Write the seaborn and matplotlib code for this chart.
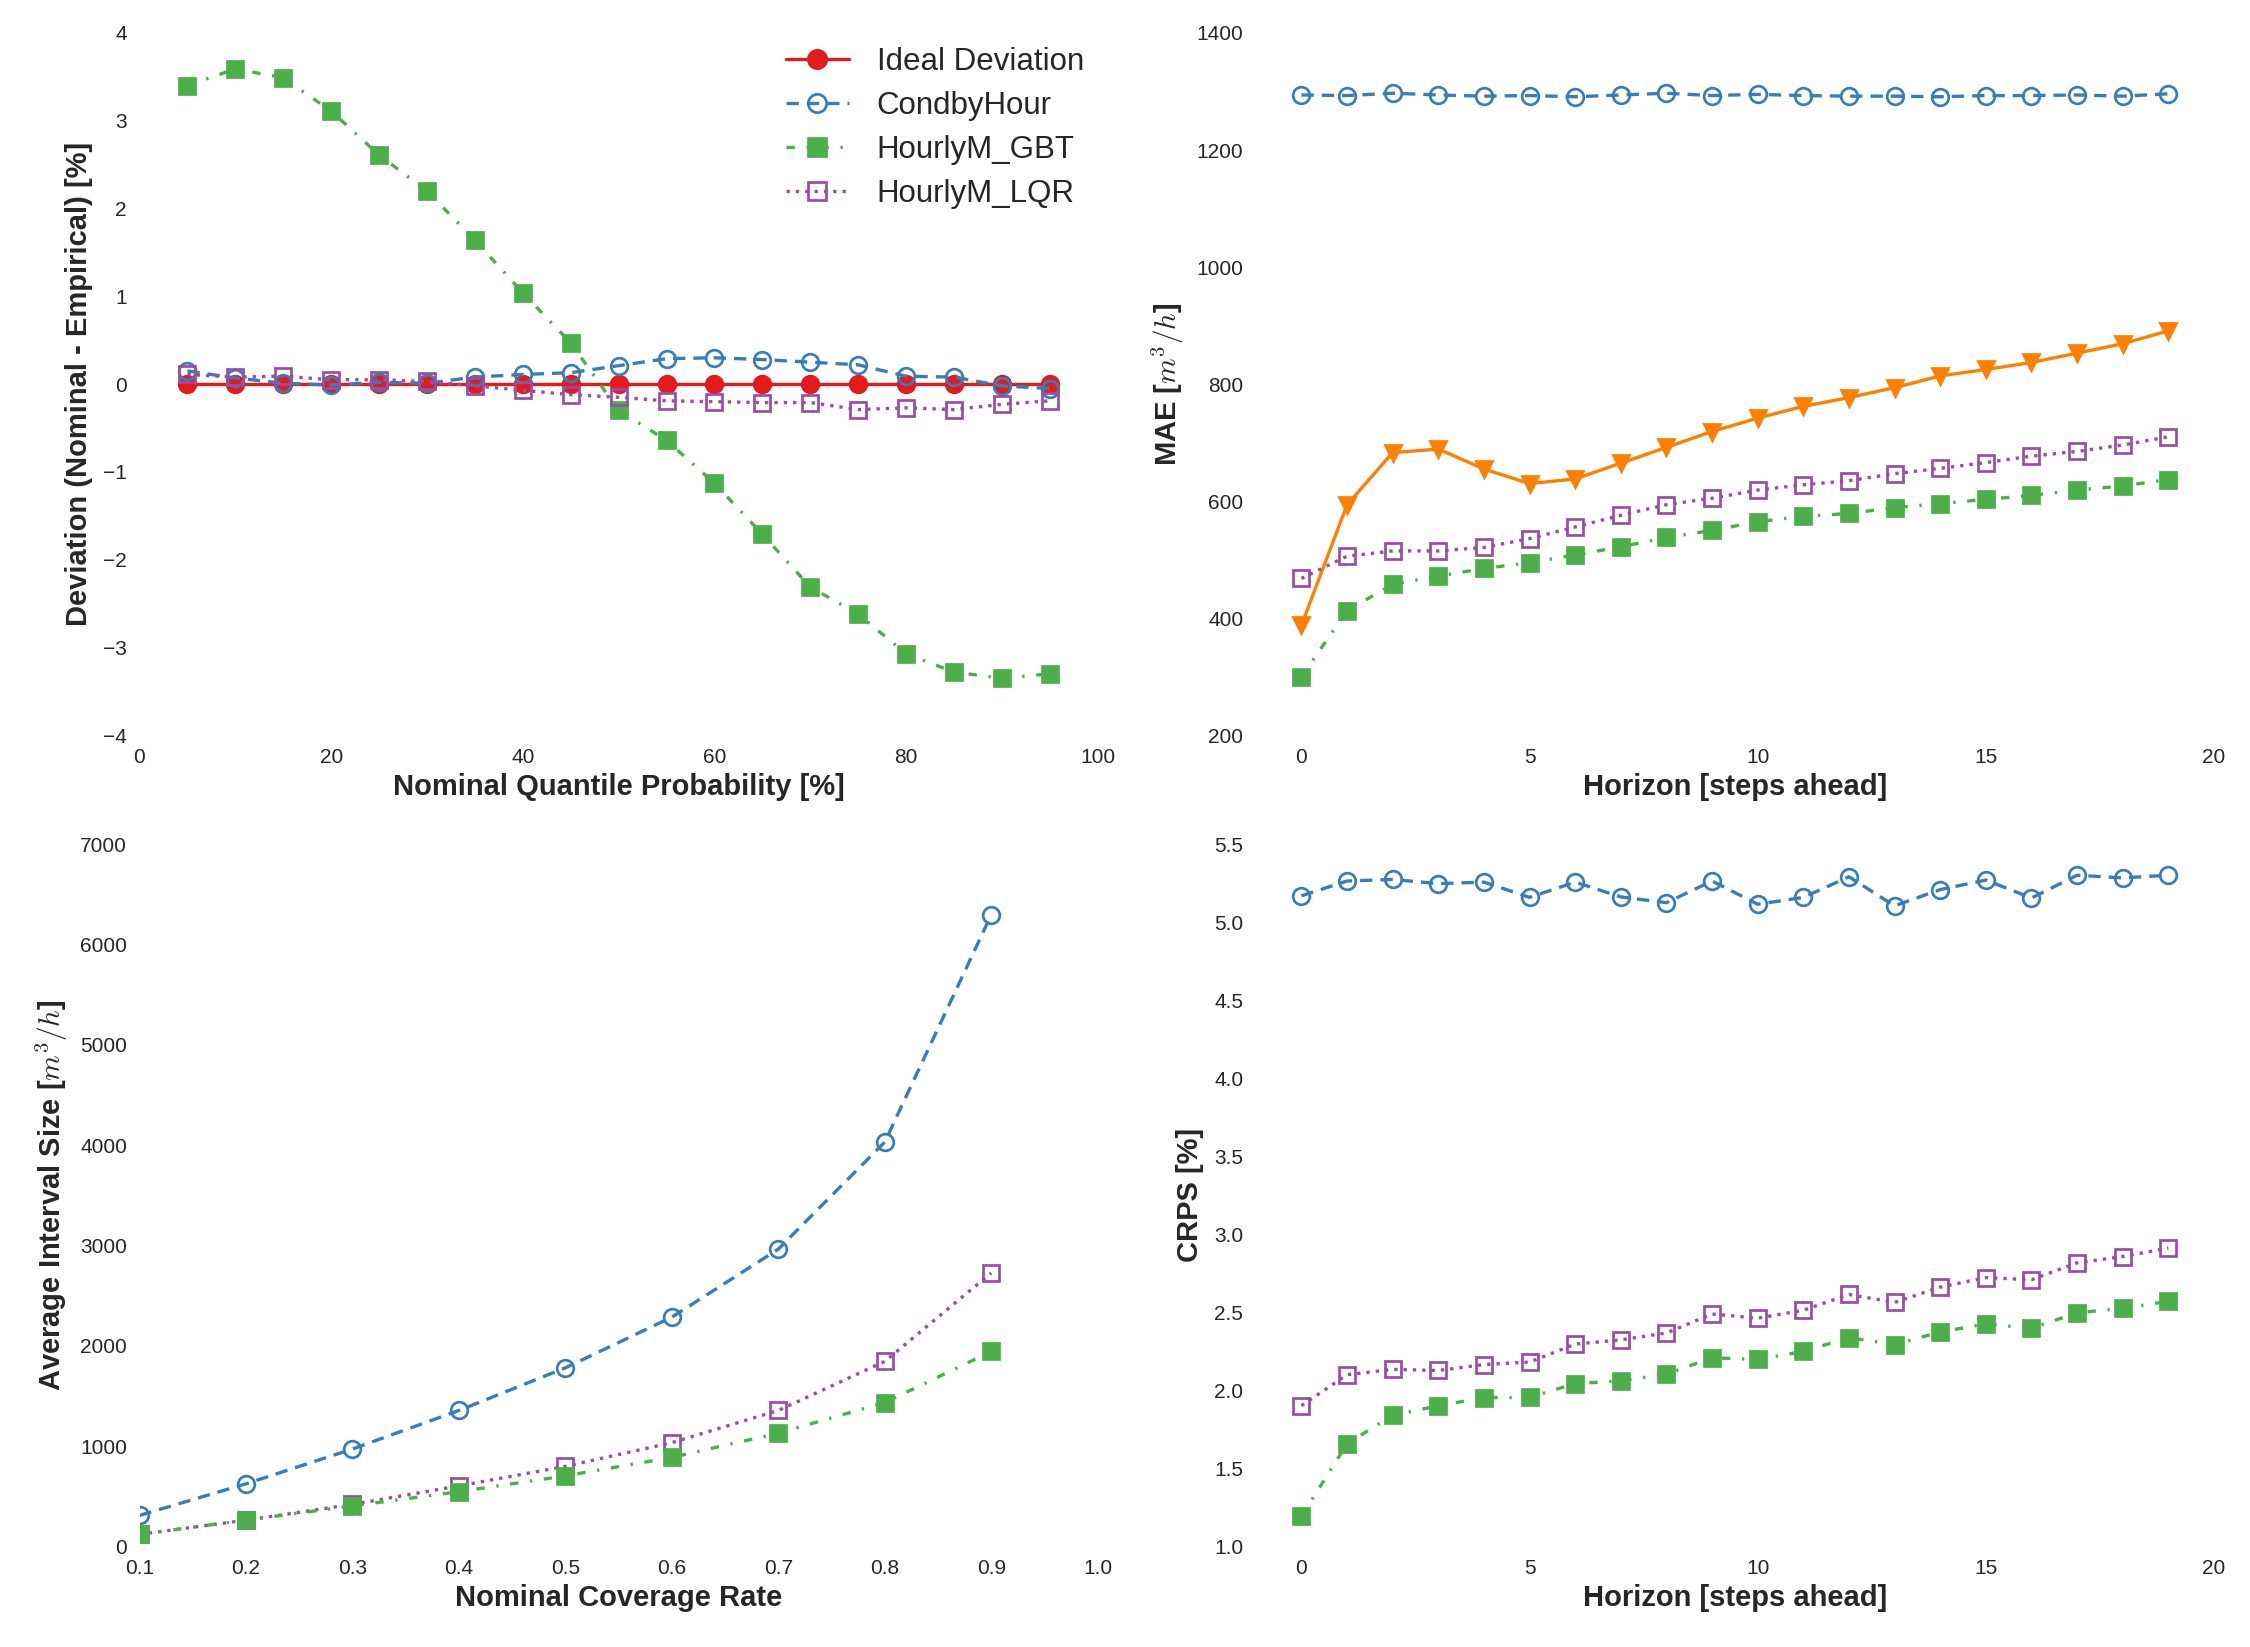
import numpy as np
import pandas as pd
import seaborn as sns
import matplotlib
matplotlib.use('Agg')
import matplotlib.pyplot as plt

# ---- data ----
quantiles = [5, 10, 15, 20, 25, 30, 35, 40, 45, 50, 55, 60, 65, 70, 75, 80, 85, 90, 95]
dev_ideal = [0.0] * 19
dev_condby = [0.15, 0.07, 0.01, -0.01, 0.02, 0.01, 0.08, 0.11, 0.13, 0.21, 0.29, 0.30,
              0.28, 0.25, 0.22, 0.09, 0.08, -0.02, -0.05]
dev_gbt = [3.40, 3.59, 3.49, 3.11, 2.61, 2.20, 1.64, 1.04, 0.47, -0.30, -0.64, -1.13,
           -1.71, -2.31, -2.62, -3.07, -3.28, -3.35, -3.30]
dev_lqr = [0.11, 0.08, 0.09, 0.05, 0.05, 0.03, -0.02, -0.07, -0.12, -0.15, -0.19, -0.20,
           -0.21, -0.21, -0.29, -0.27, -0.29, -0.23, -0.19]

horizon = list(range(20))
mae_condby = [1294, 1293, 1297, 1294, 1292, 1293, 1291, 1294, 1297, 1293, 1295, 1293,
              1292, 1292, 1291, 1293, 1293, 1294, 1292, 1296]
mae_other = [388, 594, 683, 689, 655, 630, 638, 665, 692, 719, 742, 762, 777, 794, 814,
             825, 837, 853, 869, 891]
mae_lqr = [468, 506, 515, 515, 521, 536, 556, 576, 594, 605, 619, 628, 635, 647, 656,
           666, 677, 685, 696, 710]
mae_gbt = [300, 413, 458, 472, 485, 495, 508, 522, 538, 550, 565, 574, 579, 589, 596,
           603, 610, 619, 626, 637]

coverage = [0.1, 0.2, 0.3, 0.4, 0.5, 0.6, 0.7, 0.8, 0.9]
width_condby = [310, 625, 972, 1356, 1781, 2286, 2964, 4031, 6296]
width_lqr = [121, 263, 420, 604, 799, 1035, 1356, 1845, 2727]
width_gbt = [121, 263, 405, 547, 704, 888, 1130, 1435, 1944]

crps_condby = [5.169, 5.264, 5.274, 5.247, 5.257, 5.159, 5.257, 5.162, 5.125, 5.264,
               5.115, 5.159, 5.291, 5.105, 5.209, 5.270, 5.155, 5.301, 5.284, 5.301]
crps_lqr = [1.902, 2.101, 2.135, 2.128, 2.166, 2.182, 2.297, 2.324, 2.368, 2.490, 2.463,
            2.514, 2.615, 2.564, 2.662, 2.723, 2.709, 2.818, 2.858, 2.912]
crps_gbt = [1.193, 1.659, 1.841, 1.902, 1.953, 1.956, 2.044, 2.061, 2.105, 2.209, 2.199,
            2.250, 2.338, 2.294, 2.375, 2.426, 2.399, 2.497, 2.527, 2.571]

# ---- styling ----
sns.set_style('white')
plt.rcParams['font.family'] = ['Liberation Sans', 'DejaVu Sans']
plt.rcParams['mathtext.fontset'] = 'cm'

pal = sns.color_palette('Set1')
red, blue, green, purple, orange = pal[0], pal[1], pal[2], pal[3], pal[4]

styles = {
    'ideal': dict(color=red, linestyle='-', marker='o', markerfacecolor=red, markeredgecolor=red),
    'condby': dict(color=blue, linestyle=(0, (3.7, 2.4)), marker='o',
                   markerfacecolor='none', markeredgecolor=blue),
    'gbt': dict(color=green, linestyle=(0, (2.5, 3.5, 0.7, 3.5)), marker='s',
                markerfacecolor=green, markeredgecolor=green),
    'lqr': dict(color=purple, linestyle=(0, (1, 1.8)), marker='s',
                markerfacecolor='none', markeredgecolor=purple),
    'other': dict(color=orange, linestyle='-', marker='v', markerfacecolor=orange, markeredgecolor=orange),
}


def draw(ax, x, y, key, label=None):
    sns.lineplot(x=x, y=y, ax=ax, label=label, linewidth=1.6, markersize=8,
                 markeredgewidth=1.3, legend=False, **styles[key])


fig, axes = plt.subplots(2, 2, figsize=(15, 10.98), dpi=150)
fig.subplots_adjust(left=0.062, right=0.984, top=0.980, bottom=0.061,
                    wspace=0.165, hspace=0.155)

ax = axes[0, 0]
draw(ax, quantiles, dev_ideal, 'ideal', 'Ideal Deviation')
draw(ax, quantiles, dev_condby, 'condby', 'CondbyHour')
draw(ax, quantiles, dev_gbt, 'gbt', 'HourlyM_GBT')
draw(ax, quantiles, dev_lqr, 'lqr', 'HourlyM_LQR')
ax.set_xlim(0, 100)
ax.set_ylim(-4, 4)
ax.set_xlabel('Nominal Quantile Probability [%]')
ax.set_ylabel('Deviation (Nominal - Empirical) [%]')
ax.legend(loc='upper right', bbox_to_anchor=(1.015, 1.02), frameon=False, fontsize=15,
          handlelength=2.0, handletextpad=0.9, labelspacing=0.45, markerscale=1.1)

ax = axes[0, 1]
draw(ax, horizon, mae_condby, 'condby')
draw(ax, horizon, mae_other, 'other')
draw(ax, horizon, mae_lqr, 'lqr')
draw(ax, horizon, mae_gbt, 'gbt')
ax.set_xlim(-1, 20)
ax.set_ylim(200, 1400)
ax.set_xticks([0, 5, 10, 15, 20])
ax.set_xlabel('Horizon [steps ahead]')
ax.set_ylabel('MAE [$m^3/h$]')

ax = axes[1, 0]
draw(ax, coverage, width_condby, 'condby')
draw(ax, coverage, width_lqr, 'lqr')
draw(ax, coverage, width_gbt, 'gbt')
ax.set_xlim(0.1, 1.0)
ax.set_ylim(0, 7000)
ax.set_xticks([0.1, 0.2, 0.3, 0.4, 0.5, 0.6, 0.7, 0.8, 0.9, 1.0])
ax.set_xlabel('Nominal Coverage Rate')
ax.set_ylabel('Average Interval Size [$m^3/h$]')

ax = axes[1, 1]
draw(ax, horizon, crps_condby, 'condby')
draw(ax, horizon, crps_lqr, 'lqr')
draw(ax, horizon, crps_gbt, 'gbt')
ax.set_xlim(-1, 20)
ax.set_ylim(1.0, 5.5)
ax.set_xticks([0, 5, 10, 15, 20])
ax.set_xlabel('Horizon [steps ahead]')
ax.set_ylabel('CRPS [%]')

for ax in axes.flat:
    sns.despine(ax=ax, left=True, bottom=True)
    ax.tick_params(axis='both', length=0, labelsize=10, colors='#262626', pad=6)
    ax.xaxis.label.set_fontsize(14)
    ax.yaxis.label.set_fontsize(14)
    ax.xaxis.label.set_fontweight('bold')
    ax.yaxis.label.set_fontweight('bold')
    ax.xaxis.labelpad = 3
    ax.yaxis.labelpad = 5

fig.savefig('out.png', dpi=150)
